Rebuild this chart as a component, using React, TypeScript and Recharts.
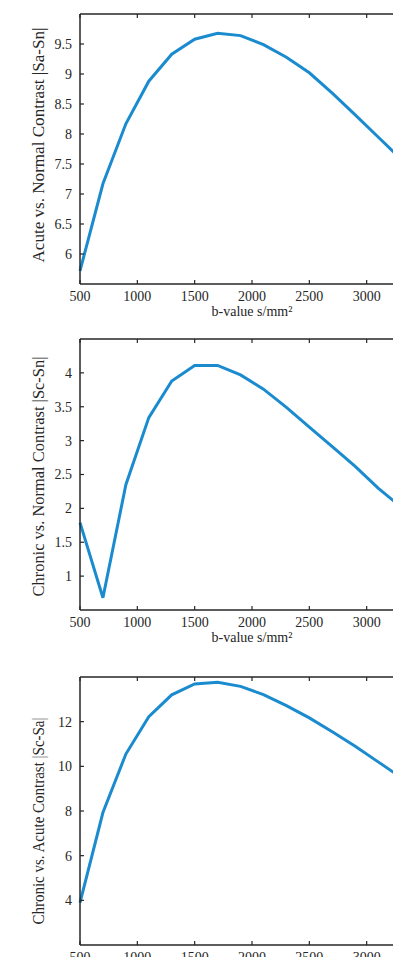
import React from 'react';
import { LineChart, Line, XAxis, YAxis } from 'recharts';

// b-values (s/mm²) at which the contrast was evaluated
const bValues = [500, 700, 900, 1100, 1300, 1500, 1700, 1900, 2100, 2300, 2500, 2700, 2900, 3100, 3300, 3500];

// |Sa - Sn|
const acuteNormal = [5.72, 7.17, 8.17, 8.88, 9.33, 9.58, 9.68, 9.64, 9.49, 9.28, 9.02, 8.68, 8.32, 7.95, 7.58, 7.2];
// |Sc - Sn|
const chronicNormal = [1.79, 0.68, 2.35, 3.34, 3.88, 4.11, 4.11, 3.97, 3.76, 3.49, 3.2, 2.91, 2.62, 2.3, 2.02, 1.76];
// |Sc - Sa|
const chronicAcute = [3.9, 7.93, 10.55, 12.22, 13.2, 13.69, 13.76, 13.58, 13.21, 12.72, 12.17, 11.55, 10.9, 10.2, 9.5, 8.8];

const bTicks = [500, 1000, 1500, 2000, 2500, 3000];
const acuteNormalTicks = [6, 6.5, 7, 7.5, 8, 8.5, 9, 9.5];
const chronicNormalTicks = [1, 1.5, 2, 2.5, 3, 3.5, 4];
const chronicAcuteTicks = [4, 6, 8, 10, 12];

const xTitle = 'b-value s/mm²';

const FONT = '"Liberation Serif", "Times New Roman", serif';
const INK = '#262626';
const CURVE = '#1b8bcf';
const CHART_W = 440;

type Panel = {
  title: string;
  values: number[];
  domain: [number, number];
  ticks: number[];
  top: number;
  height: number;
  marginTop: number;
  xAxisHeight: number;
  titleShift: number;
  titleLength: number;
};

const panels: Panel[] = [
  {
    title: 'Acute vs. Normal Contrast |Sa-Sn|',
    values: acuteNormal,
    domain: [5.5, 10],
    ticks: acuteNormalTicks,
    top: 0,
    height: 325,
    marginTop: 13,
    xAxisHeight: 41,
    titleShift: -4,
    titleLength: 235,
  },
  {
    title: 'Chronic vs. Normal Contrast |Sc-Sn|',
    values: chronicNormal,
    domain: [0.5, 4.5],
    ticks: chronicNormalTicks,
    top: 325,
    height: 335,
    marginTop: 13,
    xAxisHeight: 50,
    titleShift: 2,
    titleLength: 240,
  },
  {
    title: 'Chronic vs. Acute Contrast |Sc-Sa|',
    values: chronicAcute,
    domain: [2, 14],
    ticks: chronicAcuteTicks,
    top: 660,
    height: 297,
    marginTop: 16,
    xAxisHeight: 12,
    titleShift: 10,
    titleLength: 207,
  },
];

const tickStyle = { fontFamily: FONT, fontSize: 14, fill: INK };

// the top frame edge carries inward tick marks but no labels
const NoLabel = () => <g />;

function ContrastPanel({ p }: { p: Panel }) {
  const data = bValues.map((b, i) => ({ b, v: p.values[i] }));

  const renderXTitle = (props: any) => {
    const vb = props.viewBox || {};
    return (
      <text
        x={vb.x + vb.width / 2}
        y={vb.y + 27}
        textAnchor="middle"
        dominantBaseline="central"
        fontFamily={FONT}
        fontSize={14}
        fill={INK}
      >
        {xTitle}
      </text>
    );
  };

  const renderYTitle = (props: any) => {
    const vb = props.viewBox || {};
    const cx = 38;
    const cy = vb.y + vb.height / 2 + p.titleShift;
    return (
      <text
        x={cx}
        y={cy}
        transform={`rotate(-90, ${cx}, ${cy})`}
        textAnchor="middle"
        dominantBaseline="central"
        fontFamily={FONT}
        fontSize={16}
        fill={INK}
        textLength={p.titleLength}
        lengthAdjust="spacingAndGlyphs"
      >
        {p.title}
      </text>
    );
  };

  return (
    <div style={{ position: 'absolute', left: 0, top: p.top }}>
      <LineChart
        width={CHART_W}
        height={p.height}
        data={data}
        margin={{ top: p.marginTop, right: 16, bottom: 0, left: 0 }}
      >
        <XAxis
          dataKey="b"
          type="number"
          domain={[500, 3500]}
          ticks={bTicks}
          interval={0}
          height={p.xAxisHeight}
          axisLine={{ stroke: INK, strokeWidth: 1.5 }}
          tickLine={{ stroke: INK, strokeWidth: 1.2 }}
          tickSize={-4}
          tickMargin={11}
          tick={tickStyle}
          label={{ content: renderXTitle }}
        />
        <XAxis
          xAxisId="top"
          orientation="top"
          dataKey="b"
          type="number"
          domain={[500, 3500]}
          ticks={bTicks}
          interval={0}
          height={1}
          axisLine={{ stroke: INK, strokeWidth: 1.5 }}
          tickLine={{ stroke: INK, strokeWidth: 1.2 }}
          tickSize={-4}
          tick={<NoLabel />}
        />
        <YAxis
          type="number"
          domain={p.domain}
          ticks={p.ticks}
          interval={0}
          width={80}
          axisLine={{ stroke: INK, strokeWidth: 1.5 }}
          tickLine={{ stroke: INK, strokeWidth: 1.2 }}
          tickSize={-4}
          tickMargin={12}
          tick={tickStyle}
          allowDataOverflow
          label={{ content: renderYTitle }}
        />
        <Line
          type="linear"
          dataKey="v"
          stroke={CURVE}
          strokeWidth={3}
          dot={false}
          activeDot={false}
          isAnimationActive={false}
        />
      </LineChart>
    </div>
  );
}

export default function App() {
  return (
    <div
      style={{
        position: 'absolute',
        left: 0,
        top: 0,
        width: 393,
        height: 957,
        overflow: 'hidden',
        background: '#fff',
        fontFamily: FONT,
      }}
    >
      {panels.map((p) => (
        <ContrastPanel key={p.title} p={p} />
      ))}
    </div>
  );
}
